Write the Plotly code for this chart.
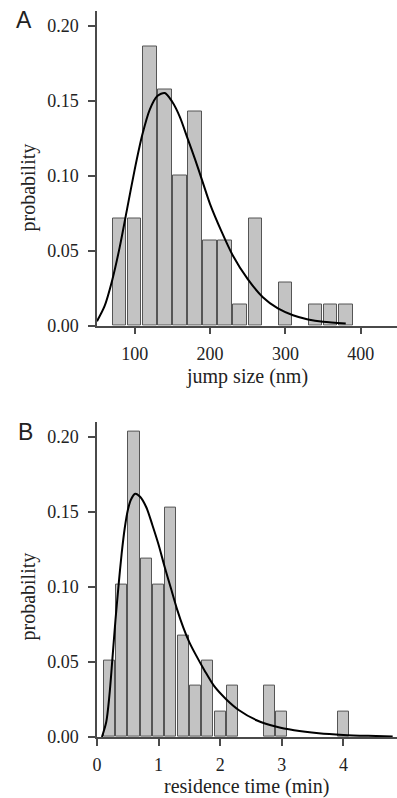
import plotly.graph_objects as go

# ---------------- data ----------------
# Panel A: jump size histogram
A_bin_centers = [80, 100, 120, 140, 160, 180, 200, 220, 240, 260, 300, 340, 360, 380]
A_prob = [0.0714, 0.0714, 0.1857, 0.1571, 0.1000, 0.1429, 0.0571, 0.0571,
          0.0143, 0.0714, 0.0286, 0.0143, 0.0143, 0.0143]
# Panel A: fitted curve
A_curve_x = [50, 60, 70, 80, 90, 100, 110, 120, 130, 140, 150, 160, 170, 180,
             190, 200, 215, 230, 250, 270, 290, 310, 330, 350, 380]
A_curve_y = [0.003, 0.013, 0.030, 0.052, 0.078, 0.104, 0.127, 0.144, 0.153, 0.155,
             0.149, 0.139, 0.125, 0.111, 0.096, 0.081, 0.063, 0.047, 0.031, 0.019,
             0.0115, 0.007, 0.0042, 0.0026, 0.0015]
A_xticks = [100, 200, 300, 400]

# Panel B: residence time histogram
B_bin_centers = [0.2, 0.4, 0.6, 0.8, 1.0, 1.2, 1.4, 1.6, 1.8, 2.0, 2.2, 2.8, 3.0, 4.0]
B_prob = [0.0508, 0.1017, 0.2034, 0.1186, 0.1017, 0.1525, 0.0678, 0.0339,
          0.0508, 0.0169, 0.0339, 0.0339, 0.0169, 0.0169]
B_curve_x = [0.08, 0.15, 0.2, 0.25, 0.3, 0.35, 0.4, 0.45, 0.5, 0.55, 0.62, 0.7, 0.8,
             0.9, 1.0, 1.1, 1.2, 1.3, 1.4, 1.5, 1.6, 1.75, 1.9, 2.1, 2.3, 2.6, 2.9,
             3.2, 3.6, 4.0, 4.4, 4.8]
B_curve_y = [0.0, 0.010, 0.027, 0.052, 0.078, 0.101, 0.122, 0.139, 0.151, 0.158,
             0.162, 0.160, 0.153, 0.141, 0.128, 0.113, 0.099, 0.085, 0.073, 0.063,
             0.055, 0.044, 0.034, 0.025, 0.018, 0.011, 0.007, 0.0045, 0.0025,
             0.0014, 0.0008, 0.0004]
B_xticks = [0, 1, 2, 3, 4]

Y_ticks = [0.00, 0.05, 0.10, 0.15, 0.20]

# ---------------- styling ----------------
W, H = 397, 798
SERIF = "Liberation Serif, Times New Roman, serif"
SANS = "Liberation Sans, Arial, sans-serif"
AXIS_COLOR = "#4a4a4a"
TEXT_COLOR = "#222222"
BAR_FILL = "#c3c3c3"
BAR_LINE = "#555555"

fig = go.Figure()

fig.add_trace(go.Bar(x=A_bin_centers, y=A_prob, width=18,
                     marker=dict(color=BAR_FILL, line=dict(color=BAR_LINE, width=1)),
                     xaxis="x", yaxis="y", showlegend=False))
fig.add_trace(go.Scatter(x=A_curve_x, y=A_curve_y, mode="lines",
                         line=dict(color="black", width=2, shape="spline", smoothing=0.8),
                         xaxis="x", yaxis="y", showlegend=False))

fig.add_trace(go.Bar(x=B_bin_centers, y=B_prob, width=0.18,
                     marker=dict(color=BAR_FILL, line=dict(color=BAR_LINE, width=1)),
                     xaxis="x2", yaxis="y2", showlegend=False))
fig.add_trace(go.Scatter(x=B_curve_x, y=B_curve_y, mode="lines",
                         line=dict(color="black", width=2, shape="spline", smoothing=0.8),
                         xaxis="x2", yaxis="y2", showlegend=False))

def px_to_paper_y(py):
    return 1 - py / H

common_axis = dict(showline=True, linecolor=AXIS_COLOR, linewidth=1.5,
                   ticks="outside", ticklen=7, tickwidth=1.5, tickcolor=AXIS_COLOR,
                   showgrid=False, zeroline=False,
                   tickfont=dict(family=SERIF, size=18, color=TEXT_COLOR),
                   automargin=False)

fig.update_layout(
    width=W, height=H,
    margin=dict(l=97, r=0, t=0, b=0),
    paper_bgcolor="white", plot_bgcolor="white",
    bargap=0,
    xaxis=dict(domain=[0, 1], anchor="y", range=[50, 448], tickvals=A_xticks,
               ticklabelstandoff=4, **common_axis),
    yaxis=dict(domain=[px_to_paper_y(325.7), px_to_paper_y(10.5)], anchor="x",
               range=[0, 0.21], tickvals=Y_ticks, tickformat=".2f",
               ticklabelstandoff=6, **common_axis),
    xaxis2=dict(domain=[0, 1], anchor="y2", range=[0, 4.87], tickvals=B_xticks,
                ticklabelstandoff=4, **common_axis),
    yaxis2=dict(domain=[px_to_paper_y(737), px_to_paper_y(421.6)], anchor="x2",
                range=[0, 0.21], tickvals=Y_ticks, tickformat=".2f",
                ticklabelstandoff=6, **common_axis),
)

def ann(text, x_px, y_px, size, family, angle=0, xanchor="center", yanchor="middle"):
    fig.add_annotation(text=text, xref="paper", yref="paper",
                       x=(x_px - 97) / (W - 97), y=px_to_paper_y(y_px),
                       xanchor=xanchor, yanchor=yanchor, showarrow=False,
                       textangle=angle,
                       font=dict(family=family, size=size, color=TEXT_COLOR))

# axis titles
ann("jump size (nm)", 247, 376, 20, SERIF)
ann("residence time (min)", 247, 786, 20, SERIF)
ann("probability", 27.5, 188, 20, SERIF, angle=-90)
ann("probability", 27.5, 597, 20, SERIF, angle=-90)
# panel letters
ann("A", 24, 20, 23, SANS)
ann("B", 25, 432, 23, SANS)

# remove the default page margin so the figure sits at the window's top-left
fig.write_html("out.html",
               config={"displayModeBar": False},
               post_script="document.body.style.margin='0';document.body.style.overflow='hidden';")
